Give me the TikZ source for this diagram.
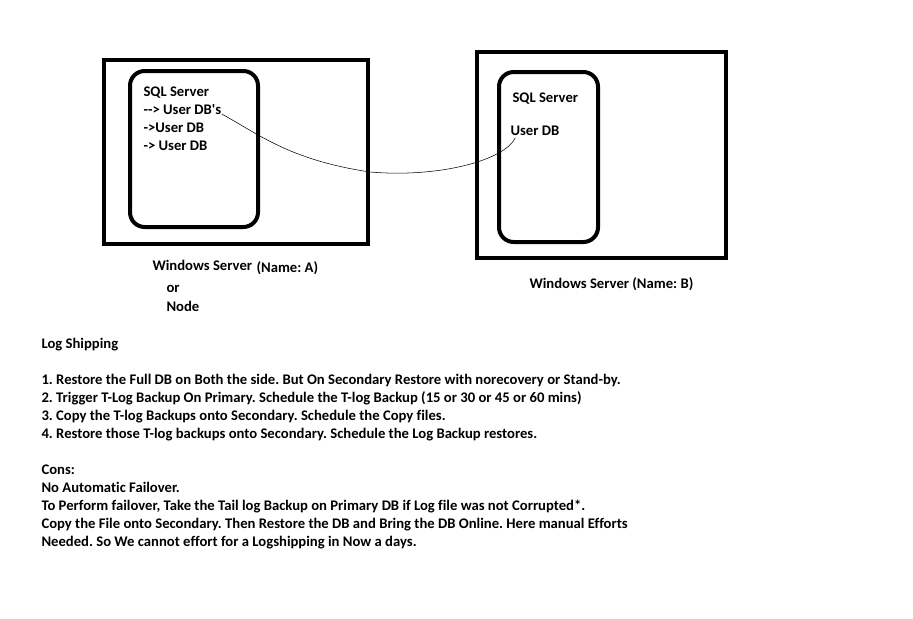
\documentclass[tikz,border=0pt]{standalone}
\usepackage{fontspec}
\setmainfont{Carlito}[Ligatures={TeXOff,NoCommon}]
\usetikzlibrary{positioning}
\frenchspacing

\begin{document}
\begin{tikzpicture}[x=0.75pt,y=-0.75pt,thick,
        host node/.style={draw,line width=3pt,minimum width=#1},
        sql node/.style={draw,line width=3pt,rounded corners=11pt,minimum width=#1},
        txt/.style={inner sep=0pt,anchor=base west,font=\fontsize{11}{13.5}\selectfont\bfseries}]
        \useasboundingbox (0,0) rectangle (913,618);
        % server A
        \node[host node=198pt, minimum height=138pt] (hostA) at (236,152) {};
        \node[sql node=96pt, minimum height=117pt] (sqlA) at (194,149) {};
        \node[txt] (titleA) at (143,96) {SQL Server};
        \node[txt] (dbsA) at (143,114) {--> User DB's};
        \node[txt] (db1A) at (143,132) {->User DB};
        \node[txt] (db2A) at (143,150) {-> User DB};
        \node[txt] (nameA) at (152,270) {Windows Server};
        \node[txt] (tagA) at (256,272) {(Name: A)};
        \node[txt] (or) at (166,292) {or};
        \node[txt] (node) at (166,311) {Node};
        % server B
        \node[host node=186.75pt, minimum height=154.5pt] (hostB) at (601.5,155) {};
        \node[sql node=74.25pt, minimum height=127.5pt] (sqlB) at (548.5,157) {};
        \node[txt] (titleB) at (512,102) {SQL Server};
        \node[txt] (dbB) at (510,135) {User DB};
        \node[txt] (nameB) at (529,288) {Windows Server (Name: B)};
        % log shipping
        \draw[thin] (dbsA.base east) .. controls (260,135) and (290,160) .. (370,172)
            .. controls (440,178) and (505,160) .. ([xshift=4pt,yshift=-2pt]dbB.base west);
        \foreach \n/\txt in {0/{Log Shipping},
            2/{1. Restore the Full DB on Both the side. But On Secondary Restore with norecovery or Stand-by.},
            3/{2. Trigger T-Log Backup On Primary. Schedule the T-log Backup (15 or 30 or 45 or 60 mins)},
            4/{3. Copy the T-log Backups onto Secondary. Schedule the Copy files.},
            5/{4. Restore those T-log backups onto Secondary. Schedule the Log Backup restores.},
            7/{Cons:},
            8/{No Automatic Failover.},
            9/{To Perform failover, Take the Tail log Backup on Primary DB if Log file was not Corrupted*.},
            10/{Copy the File onto Secondary. Then Restore the DB and Bring the DB Online. Here manual Efforts},
            11/{Needed. So We cannot effort for a Logshipping in Now a days.}}
            \node[txt] (line\n) at (41,{348+18*\n}) {\txt};
\end{tikzpicture}
\end{document}
